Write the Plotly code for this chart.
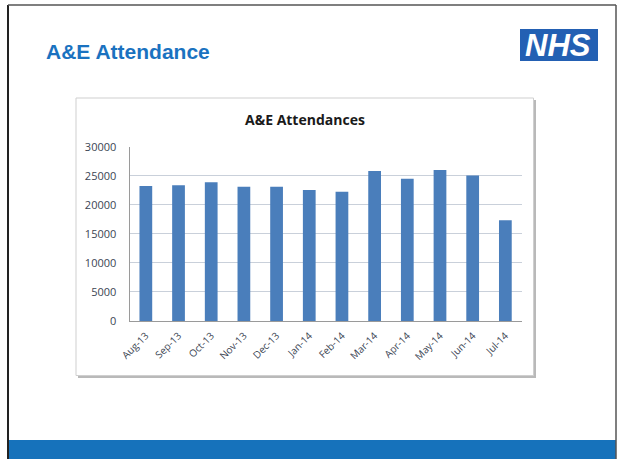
import plotly.graph_objects as go

W, H = 618, 459

months = ["Aug-13", "Sep-13", "Oct-13", "Nov-13", "Dec-13", "Jan-14",
          "Feb-14", "Mar-14", "Apr-14", "May-14", "Jun-14", "Jul-14"]
attendances = [23250, 23350, 23900, 23100, 23100, 22550,
               22250, 25800, 24500, 26000, 25050, 17350]
y_ticks = [0, 5000, 10000, 15000, 20000, 25000, 30000]

slide_title = "A&E Attendance"
chart_title = "A&E Attendances"


def px(x):
    return x / W


def py(y):
    return 1 - y / H


fig = go.Figure()
fig.add_trace(go.Bar(
    x=months, y=attendances,
    marker=dict(color="#4a7ebb", line=dict(width=0)),
    hoverinfo="x+y",
))

shapes = [
    # chart box shadow
    dict(type="rect", xref="paper", yref="paper", layer="below",
         x0=px(78), x1=px(536), y0=py(378), y1=py(100),
         fillcolor="#b9b9b9", line=dict(width=0)),
    # chart box
    dict(type="rect", xref="paper", yref="paper", layer="below",
         x0=px(76), x1=px(533.5), y0=py(375.5), y1=py(98),
         fillcolor="white", line=dict(color="#cfcfcf", width=1)),
    # bottom blue band
    dict(type="rect", xref="paper", yref="paper", layer="above",
         x0=px(8.5), x1=px(616), y0=0, y1=py(440),
         fillcolor="#1672bb", line=dict(width=0)),
    # slide border
    dict(type="line", xref="paper", yref="paper", layer="above",
         x0=px(8), x1=px(8), y0=0, y1=py(5), line=dict(color="#222", width=2)),
    dict(type="line", xref="paper", yref="paper", layer="above",
         x0=px(8), x1=px(616), y0=py(5), y1=py(5), line=dict(color="#555", width=1.5)),
    dict(type="line", xref="paper", yref="paper", layer="above",
         x0=px(616), x1=px(616), y0=0, y1=py(5), line=dict(color="#555", width=1.5)),
    # NHS logo box
    dict(type="rect", xref="paper", yref="paper", layer="above",
         x0=px(520), x1=px(598), y0=py(61), y1=py(29),
         fillcolor="#2360b3", line=dict(width=0)),
]

annotations = [
    dict(text="<b>" + slide_title + "</b>", xref="paper", yref="paper",
         x=px(44), y=py(51), xanchor="left", yanchor="middle", showarrow=False,
         font=dict(family="Liberation Sans, Arial", size=21, color="#1a72c0")),
    dict(text="<b><i>NHS</i></b>", xref="paper", yref="paper",
         x=px(558), y=py(45.5), xanchor="center", yanchor="middle", showarrow=False,
         font=dict(family="Liberation Sans, Arial", size=31, color="white")),
    dict(text="<b>" + chart_title + "</b>", xref="paper", yref="paper",
         x=px(305), y=py(120), xanchor="center", yanchor="middle", showarrow=False,
         font=dict(family="Open Sans, Noto Sans", size=14, color="#1a1a1a")),
]

fig.update_layout(
    width=W, height=H, autosize=False,
    margin=dict(l=0, r=0, t=0, b=0, pad=0),
    paper_bgcolor="white", plot_bgcolor="rgba(0,0,0,0)",
    showlegend=False, bargap=0.61,
    shapes=shapes, annotations=annotations,
    xaxis=dict(domain=[px(129.5), px(521.7)], showgrid=False, automargin=False,
               showline=True, linecolor="#9a9a9a", linewidth=1,
               tickangle=-45, ticks="", ticklabelstandoff=4,
               tickfont=dict(family="Open Sans, Noto Sans", size=10, color="#3b4553"),
               fixedrange=True),
    yaxis=dict(domain=[py(321), py(146.7)], range=[0, 30000], automargin=False,
               tickvals=y_ticks, ticktext=[str(v) for v in y_ticks],
               showgrid=True, gridcolor="#c9d0da", gridwidth=1,
               showline=True, linecolor="#9a9a9a", linewidth=1,
               zeroline=False, ticks="", ticklabelstandoff=10,
               tickfont=dict(family="Open Sans, Noto Sans", size=11, color="#3b4553"),
               fixedrange=True),
)

fig.write_html(
    "out.html",
    config={"displayModeBar": False},
    post_script="document.documentElement.style.margin='0';"
                "document.documentElement.style.overflow='hidden';"
                "document.body.style.margin='0';"
                "document.body.style.overflow='hidden';",
)
